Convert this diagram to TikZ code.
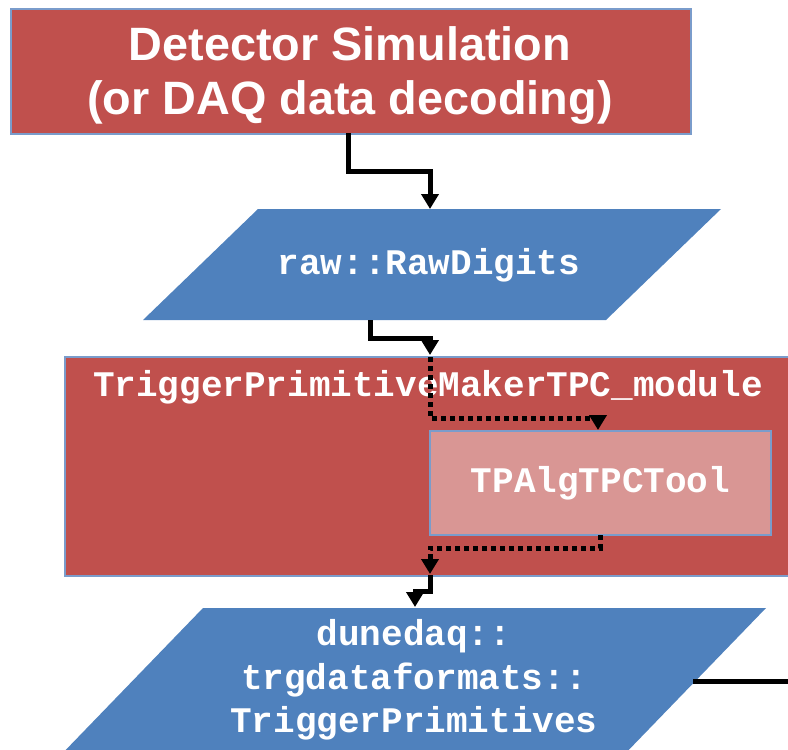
\documentclass[tikz,border=0pt]{standalone}
\usepackage{fontspec}
\setmainfont{Liberation Sans}
\newfontfamily\courfont{Liberation Mono}
\usetikzlibrary{arrows.meta}
\definecolor{boxred}{HTML}{C0504D}
\definecolor{boxblue}{HTML}{4F81BD}
\definecolor{boxpink}{HTML}{D99694}
\definecolor{edgeblue}{HTML}{7A9CCB}
\begin{document}
\begin{tikzpicture}[x=1pt,y=-1pt,
  redbox/.style={fill=boxred, draw=edgeblue, line width=1.5pt, inner sep=0pt},
  pinkbox/.style={fill=boxpink, draw=edgeblue, line width=1.5pt, inner sep=0pt},
  databox/.style={fill=boxblue, draw=none},
  codetext/.style={text=white, font=\courfont\bfseries\fontsize{36}{43.5}\selectfont, align=center, inner sep=0pt},
  titletext/.style={text=white, font=\bfseries\fontsize{46.8}{54}\selectfont, align=center},
  conn/.style={draw=black, line width=5pt, -{Triangle[width=17pt,length=15pt]}},
  dotconn/.style={conn, dash pattern=on 5pt off 4pt}]
\useasboundingbox (0,0) rectangle (788,750);
\clip (0,0) rectangle (788,750);

% top box
\node[redbox, minimum width=680pt, minimum height=125pt, anchor=north west] (det) at (10,8) {};
\node[titletext] (dettext) at (350,75) {Detector Simulation\\(or DAQ data decoding)};

% parallelogram 1
\path[databox] (258,209) -- (721,209) -- (606,320) -- (143,320) -- cycle;
\node[codetext] (raw) at (429,265) {raw::RawDigits};

% module box
\node[redbox, minimum width=740pt, minimum height=219pt, anchor=north west] (tpm) at (64,356) {};
\node[codetext] (tpmtext) at (428,387) {TriggerPrimitiveMakerTPC\_module};

% tool box
\node[pinkbox, minimum width=341pt, minimum height=104pt, codetext] (tool) at (600.5,483) {TPAlgTPCTool};

% parallelogram 2
\path[databox] (203,608) -- (766,608) -- (619,760) -- (56,760) -- cycle;
\node[codetext] (tps) at (414,680) {dunedaq::\\trgdataformats::\\TriggerPrimitives};

% connector coordinates
\coordinate (c1s) at (348,133);
\coordinate (c1e) at (430,209);
\coordinate (c2s) at (370,320);
\coordinate (c2e) at (430,355);
\coordinate (d1s) at (430,357);
\coordinate (d1e) at (598,430);
\coordinate (d2s) at (600,535);
\coordinate (d2e) at (430,574);
\coordinate (c3s) at (430,575);
\coordinate (c3e) at (415,607);
\coordinate (outs) at (693,681);
\coordinate (oute) at (790,681);

\draw[conn] (c1s) -- (c1s |- 0,171) -- (c1e |- 0,171) -- (c1e);
\draw[conn] (c2s) -- (c2s |- 0,338) -- (c2e |- 0,338) -- (c2e);
\draw[dotconn] (d1s) -- (d1s |- 0,418) -- (d1e |- 0,418) -- (d1e);
\draw[dotconn] (d2s) -- (d2s |- 0,548) -- (d2e |- 0,548) -- (d2e);
\draw[conn] (c3s) -- (c3s |- 0,591) -- (c3e |- 0,591) -- (c3e);
\draw[draw=black, line width=5pt] (outs) -- (oute);
\end{tikzpicture}
\end{document}
